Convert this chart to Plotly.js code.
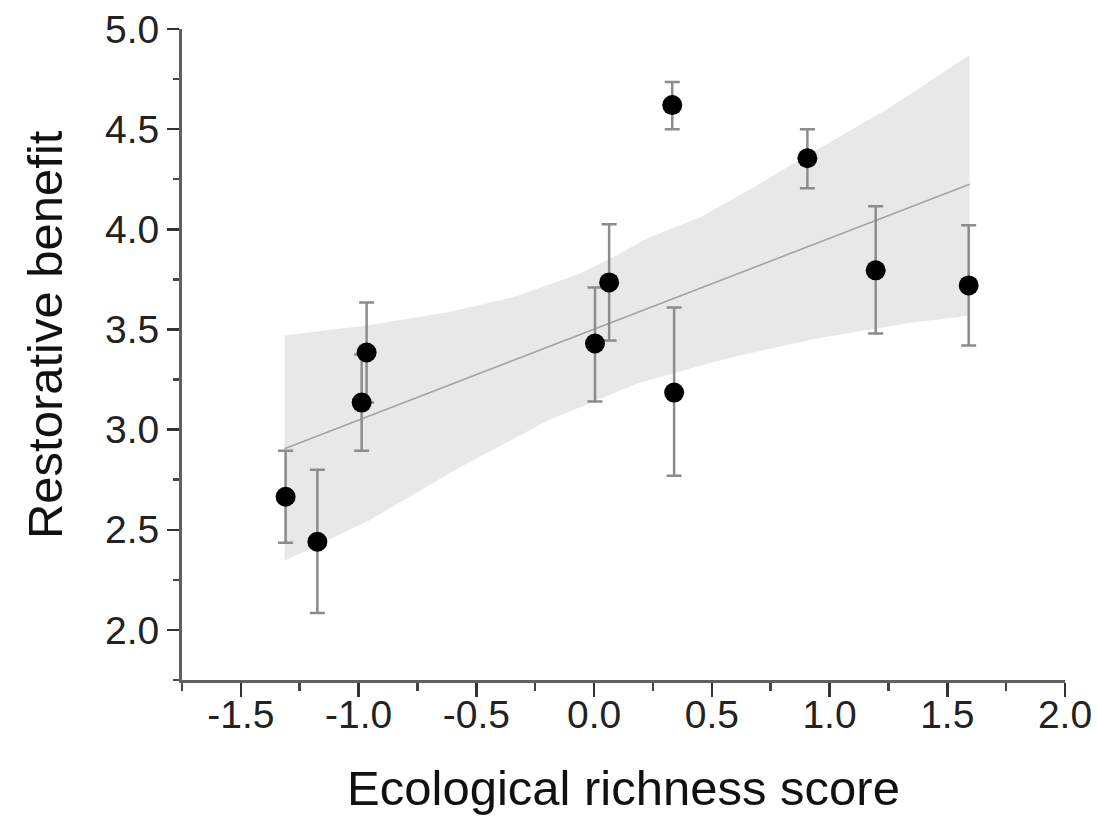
<!DOCTYPE html>
<html>
<head>
<meta charset="utf-8">
<script src="https://cdn.plot.ly/plotly-3.0.1.min.js"></script>
<style>html,body{margin:0;padding:0;background:#fff;}#chart{width:1097px;height:818px;}</style>
</head>
<body>
<div id="chart"></div>
<script>
// Data points
const richness = [-1.31, -1.175, -0.987, -0.966, 0.004, 0.064, 0.332, 0.34, 0.906, 1.196, 1.591];
const benefit  = [2.665, 2.44, 3.135, 3.385, 3.43, 3.735, 4.62, 3.185, 4.355, 3.795, 3.72];
const errPlus  = [0.23, 0.36, 0.24, 0.25, 0.28, 0.29, 0.115, 0.425, 0.145, 0.32, 0.30];
const errMinus = [0.23, 0.355, 0.24, 0.25, 0.29, 0.29, 0.12, 0.415, 0.15, 0.315, 0.30];

// Regression line
const fitX = [-1.315, 1.595];
const fitY = [2.905, 4.225];

// Confidence band edges
const upperX = [-1.315, -0.966, -0.626, -0.345, -0.06, 0.081, 0.226, 0.451, 0.664, 0.906, 1.26, 1.595];
const upperY = [3.47, 3.52, 3.585, 3.66, 3.78, 3.86, 3.955, 4.06, 4.2, 4.37, 4.61, 4.87];
const lowerX = [-1.315, -0.957, -0.574, -0.196, 0.183, 0.562, 0.945, 1.323, 1.595];
const lowerY = [2.345, 2.545, 2.81, 3.045, 3.23, 3.355, 3.455, 3.53, 3.57];

const polyX = upperX.concat(lowerX.slice().reverse());
const polyY = upperY.concat(lowerY.slice().reverse());

const font = '"Liberation Sans", Arial, sans-serif';

const traces = [
  {x: polyX, y: polyY, type: 'scatter', mode: 'lines', fill: 'toself',
   fillcolor: '#e8e8e8', line: {width: 0, color: '#e8e8e8'}, hoverinfo: 'skip', showlegend: false},
  {x: fitX, y: fitY, type: 'scatter', mode: 'lines',
   line: {color: '#a3a3a3', width: 1.6}, showlegend: false},
  {x: richness, y: benefit, type: 'scatter', mode: 'markers',
   marker: {color: '#000', size: 20},
   error_y: {type: 'data', symmetric: false, array: errPlus, arrayminus: errMinus,
             color: '#8c8c8c', thickness: 2.5, width: 7.5},
   showlegend: false}
];

const layout = {
  width: 1097, height: 818,
  margin: {l: 182, r: 32, t: 29, b: 138},
  paper_bgcolor: '#fff', plot_bgcolor: '#fff',
  font: {family: font, color: '#1a1a1a'},
  xaxis: {
    range: [-1.75, 2.0], tickmode: 'array',
    tickvals: [-1.5, -1.0, -0.5, 0.0, 0.5, 1.0, 1.5, 2.0],
    ticktext: ['-1.5', '-1.0', '-0.5', '0.0', '0.5', '1.0', '1.5', '2.0'],
    ticks: 'outside', ticklen: 14, tickwidth: 2.5, tickcolor: '#333',
    ticklabelstandoff: -16,
    minor: {dtick: 0.25, tick0: 0, ticks: 'outside', ticklen: 8, tickwidth: 2.5, tickcolor: '#444', showgrid: false},
    showline: true, linecolor: '#606060', linewidth: 3,
    showgrid: false, zeroline: false,
    tickfont: {size: 39, family: font, color: '#222'},
    title: {text: 'Ecological richness score', font: {size: 49, family: font, color: '#111'}, standoff: 36}
  },
  yaxis: {
    range: [1.75, 5.0], tickmode: 'array',
    tickvals: [2.0, 2.5, 3.0, 3.5, 4.0, 4.5, 5.0],
    ticktext: ['2.0', '2.5', '3.0', '3.5', '4.0', '4.5', '5.0'],
    ticks: 'outside', ticklen: 12, tickwidth: 2.5, tickcolor: '#333',
    minor: {dtick: 0.25, tick0: 0, ticks: 'outside', ticklen: 6, tickwidth: 2.5, tickcolor: '#444', showgrid: false},
    showline: true, linecolor: '#606060', linewidth: 3,
    showgrid: false, zeroline: false,
    tickfont: {size: 39, family: font, color: '#222'}
  },
  annotations: [{
    text: 'Restorative benefit', textangle: -90, showarrow: false,
    xref: 'paper', yref: 'paper', x: -0.155, y: 0.53,
    xanchor: 'center', yanchor: 'middle',
    font: {size: 49, family: font, color: '#111'}
  }]
};

Plotly.newPlot('chart', traces, layout, {displayModeBar: false, staticPlot: true});
</script>
</body>
</html>
